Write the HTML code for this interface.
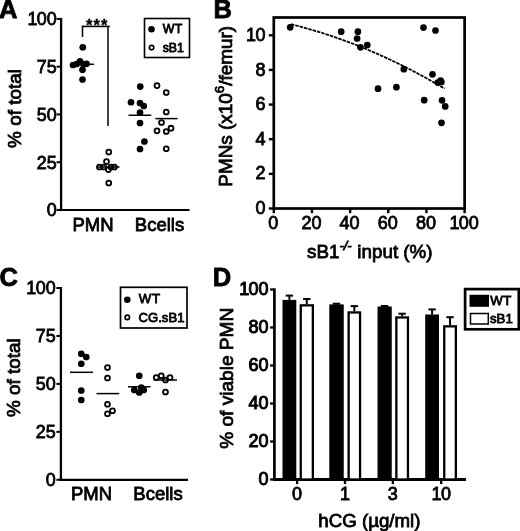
<!DOCTYPE html>
<html><head><meta charset="utf-8"><title>Figure</title>
<style>
html,body{margin:0;padding:0;background:#fff;}
svg{display:block;}
svg text{font-family:"Liberation Sans",sans-serif;fill:#000;stroke:#000;stroke-width:0.8px;}
</style></head><body>
<svg width="520" height="531" viewBox="0 0 520 531">
<rect x="0" y="0" width="520" height="531" fill="#fff"/>
<text x="-1" y="17.8" font-size="25.5" text-anchor="start" font-weight="bold" >A</text>
<line x1="61.1" y1="17.9" x2="61.1" y2="211.1" stroke="#000" stroke-width="2.3"/>
<line x1="60.0" y1="210" x2="189.5" y2="210" stroke="#000" stroke-width="2.2"/>
<line x1="56.6" y1="210.0" x2="61.1" y2="210.0" stroke="#000" stroke-width="2"/>
<text x="56.7" y="216.4" font-size="17.9" text-anchor="end" font-weight="normal" >0</text>
<line x1="56.6" y1="162.225" x2="61.1" y2="162.225" stroke="#000" stroke-width="2"/>
<text x="56.7" y="168.625" font-size="17.9" text-anchor="end" font-weight="normal" >25</text>
<line x1="56.6" y1="114.45" x2="61.1" y2="114.45" stroke="#000" stroke-width="2"/>
<text x="56.7" y="120.85000000000001" font-size="17.9" text-anchor="end" font-weight="normal" >50</text>
<line x1="56.6" y1="66.67500000000001" x2="61.1" y2="66.67500000000001" stroke="#000" stroke-width="2"/>
<text x="56.7" y="73.07500000000002" font-size="17.9" text-anchor="end" font-weight="normal" >75</text>
<line x1="56.6" y1="18.900000000000006" x2="61.1" y2="18.900000000000006" stroke="#000" stroke-width="2"/>
<text x="56.7" y="25.300000000000004" font-size="17.9" text-anchor="end" font-weight="normal" >1<tspan dx="-0.6">00</tspan></text>
<text transform="translate(20.7,108.5) rotate(-90)" font-size="18.9" text-anchor="middle">% of total</text>
<text x="93" y="231" font-size="18.5" text-anchor="middle" font-weight="normal" >PMN</text>
<text x="159.5" y="231" font-size="18.5" text-anchor="middle" font-weight="normal" >Bcells</text>
<line x1="81.8" y1="26.4" x2="109.8" y2="26.4" stroke="#000" stroke-width="1.6"/>
<line x1="82.5" y1="26" x2="82.5" y2="37" stroke="#000" stroke-width="1.5"/>
<line x1="108" y1="26" x2="108" y2="126" stroke="#000" stroke-width="1.5"/>
<text x="97.2" y="30.6" font-size="16.5" text-anchor="middle" font-weight="bold" style="stroke-width:0.3px;letter-spacing:1px">***</text>
<circle cx="82.75" cy="47.25" r="3.35" fill="#000"/>
<circle cx="73" cy="65" r="3.35" fill="#000"/>
<circle cx="76.7" cy="64" r="3.35" fill="#000"/>
<circle cx="80" cy="61.3" r="3.35" fill="#000"/>
<circle cx="83.3" cy="64.2" r="3.35" fill="#000"/>
<circle cx="86.5" cy="63.8" r="3.35" fill="#000"/>
<circle cx="82.5" cy="69.8" r="3.35" fill="#000"/>
<circle cx="82.5" cy="79.5" r="3.35" fill="#000"/>
<line x1="72" y1="64.3" x2="94" y2="64.3" stroke="#000" stroke-width="1.5"/>
<line x1="98" y1="167" x2="119.5" y2="167" stroke="#000" stroke-width="1.5"/>
<circle cx="108.75" cy="152" r="2.45" fill="none" stroke="#000" stroke-width="1.8"/>
<circle cx="106.5" cy="161.6" r="2.45" fill="none" stroke="#000" stroke-width="1.8"/>
<circle cx="99.4" cy="167" r="2.45" fill="none" stroke="#000" stroke-width="1.8"/>
<circle cx="103.75" cy="167" r="2.45" fill="none" stroke="#000" stroke-width="1.8"/>
<circle cx="108.4" cy="169.6" r="2.45" fill="none" stroke="#000" stroke-width="1.8"/>
<circle cx="111" cy="167" r="2.45" fill="none" stroke="#000" stroke-width="1.8"/>
<circle cx="114.4" cy="167" r="2.45" fill="none" stroke="#000" stroke-width="1.8"/>
<circle cx="108.75" cy="183" r="2.45" fill="none" stroke="#000" stroke-width="1.8"/>
<line x1="128.5" y1="115.25" x2="151.25" y2="115.25" stroke="#000" stroke-width="1.5"/>
<circle cx="140.25" cy="86.6" r="3.35" fill="#000"/>
<circle cx="131" cy="102.25" r="3.35" fill="#000"/>
<circle cx="140" cy="103" r="3.35" fill="#000"/>
<circle cx="143.75" cy="106" r="3.35" fill="#000"/>
<circle cx="140" cy="112.5" r="3.35" fill="#000"/>
<circle cx="140" cy="123" r="3.35" fill="#000"/>
<circle cx="144.4" cy="141.5" r="3.35" fill="#000"/>
<circle cx="140" cy="149" r="3.35" fill="#000"/>
<line x1="155.4" y1="118.6" x2="177.5" y2="118.6" stroke="#000" stroke-width="1.5"/>
<circle cx="157" cy="85.6" r="2.45" fill="none" stroke="#000" stroke-width="1.8"/>
<circle cx="166.25" cy="92.5" r="2.45" fill="none" stroke="#000" stroke-width="1.8"/>
<circle cx="166.25" cy="112" r="2.45" fill="none" stroke="#000" stroke-width="1.8"/>
<circle cx="161.5" cy="122.5" r="2.45" fill="none" stroke="#000" stroke-width="1.8"/>
<circle cx="157" cy="130.8" r="2.45" fill="none" stroke="#000" stroke-width="1.8"/>
<circle cx="166.25" cy="131.5" r="2.45" fill="none" stroke="#000" stroke-width="1.8"/>
<circle cx="171" cy="128.2" r="2.45" fill="none" stroke="#000" stroke-width="1.8"/>
<circle cx="166.25" cy="148.75" r="2.45" fill="none" stroke="#000" stroke-width="1.8"/>
<rect x="144.5" y="18.5" width="45" height="39" fill="#fff" stroke="#000" stroke-width="1.6"/>
<circle cx="151.5" cy="29.2" r="3.3" fill="#000"/>
<circle cx="151.6" cy="47.6" r="2.2" fill="none" stroke="#000" stroke-width="1.7"/>
<text x="162.7" y="33.2" font-size="12.3" text-anchor="start" font-weight="normal" style="letter-spacing:0.5px">WT</text>
<text x="162.7" y="52.2" font-size="12.3" text-anchor="start" font-weight="normal" >sB1</text>
<text x="213.6" y="18.2" font-size="25.5" text-anchor="start" font-weight="bold" >B</text>
<rect x="273.8" y="17.5" width="190.8" height="191.0" fill="none" stroke="#000" stroke-width="2.7"/>
<line x1="268.8" y1="208.5" x2="273.8" y2="208.5" stroke="#000" stroke-width="2.4"/>
<text x="265.5" y="214.1" font-size="18" text-anchor="end" font-weight="normal" >0</text>
<line x1="268.8" y1="173.86" x2="273.8" y2="173.86" stroke="#000" stroke-width="2.4"/>
<text x="265.5" y="179.46" font-size="18" text-anchor="end" font-weight="normal" >2</text>
<line x1="268.8" y1="139.22" x2="273.8" y2="139.22" stroke="#000" stroke-width="2.4"/>
<text x="265.5" y="144.82" font-size="18" text-anchor="end" font-weight="normal" >4</text>
<line x1="268.8" y1="104.58000000000001" x2="273.8" y2="104.58000000000001" stroke="#000" stroke-width="2.4"/>
<text x="265.5" y="110.18" font-size="18" text-anchor="end" font-weight="normal" >6</text>
<line x1="268.8" y1="69.94" x2="273.8" y2="69.94" stroke="#000" stroke-width="2.4"/>
<text x="265.5" y="75.53999999999999" font-size="18" text-anchor="end" font-weight="normal" >8</text>
<line x1="268.8" y1="35.30000000000001" x2="273.8" y2="35.30000000000001" stroke="#000" stroke-width="2.4"/>
<text x="265.5" y="40.90000000000001" font-size="18" text-anchor="end" font-weight="normal" >1<tspan dx="-0.6">0</tspan></text>
<line x1="273.8" y1="208.5" x2="273.8" y2="213.2" stroke="#000" stroke-width="2.4"/>
<text x="273.3" y="229.3" font-size="18" text-anchor="middle" font-weight="normal" >0</text>
<line x1="311.96000000000004" y1="208.5" x2="311.96000000000004" y2="213.2" stroke="#000" stroke-width="2.4"/>
<text x="311.46000000000004" y="229.3" font-size="18" text-anchor="middle" font-weight="normal" >20</text>
<line x1="350.12" y1="208.5" x2="350.12" y2="213.2" stroke="#000" stroke-width="2.4"/>
<text x="349.62" y="229.3" font-size="18" text-anchor="middle" font-weight="normal" >40</text>
<line x1="388.28000000000003" y1="208.5" x2="388.28000000000003" y2="213.2" stroke="#000" stroke-width="2.4"/>
<text x="387.78000000000003" y="229.3" font-size="18" text-anchor="middle" font-weight="normal" >60</text>
<line x1="426.44" y1="208.5" x2="426.44" y2="213.2" stroke="#000" stroke-width="2.4"/>
<text x="425.94" y="229.3" font-size="18" text-anchor="middle" font-weight="normal" >80</text>
<line x1="464.6" y1="208.5" x2="464.6" y2="213.2" stroke="#000" stroke-width="2.4"/>
<text x="464.1" y="229.3" font-size="18" text-anchor="middle" font-weight="normal" >1<tspan dx="-0.6">00</tspan></text>
<text transform="translate(232.2,106.3) rotate(-90)" font-size="18.9" text-anchor="middle">PMNs (x10<tspan font-size="13.5" dy="-8">6</tspan><tspan dy="8">/femur)</tspan></text>
<text x="307" y="258.3" font-size="18.8">sB1<tspan font-size="13" dy="-8" font-style="italic" dx="0">-/-</tspan><tspan dy="8" dx="0.5"> input (%)</tspan></text>
<path d="M291,24.2 Q367.8,43.1 444.6,88.6" fill="none" stroke="#000" stroke-width="1.8" stroke-dasharray="3.5 1"/>
<circle cx="290.2" cy="27.3" r="3.35" fill="#000"/>
<circle cx="341.2" cy="31.7" r="3.35" fill="#000"/>
<circle cx="357.9" cy="31.7" r="3.35" fill="#000"/>
<circle cx="357.1" cy="38.5" r="3.35" fill="#000"/>
<circle cx="360.5" cy="47.3" r="3.35" fill="#000"/>
<circle cx="367.3" cy="45" r="3.35" fill="#000"/>
<circle cx="423.5" cy="27.6" r="3.35" fill="#000"/>
<circle cx="435.5" cy="30.5" r="3.35" fill="#000"/>
<circle cx="403.8" cy="69.2" r="3.35" fill="#000"/>
<circle cx="432.5" cy="74.3" r="3.35" fill="#000"/>
<circle cx="440.6" cy="80.5" r="3.35" fill="#000"/>
<circle cx="437.7" cy="82.5" r="3.35" fill="#000"/>
<circle cx="441.4" cy="82" r="3.35" fill="#000"/>
<circle cx="378" cy="88.7" r="3.35" fill="#000"/>
<circle cx="396.4" cy="87.2" r="3.35" fill="#000"/>
<circle cx="424.2" cy="100.2" r="3.35" fill="#000"/>
<circle cx="442" cy="100.3" r="3.35" fill="#000"/>
<circle cx="445.2" cy="106.4" r="3.35" fill="#000"/>
<circle cx="441.5" cy="122.8" r="3.35" fill="#000"/>
<text x="-0.6" y="285.6" font-size="25.5" text-anchor="start" font-weight="bold" >C</text>
<line x1="60.9" y1="287.0" x2="60.9" y2="480.90000000000003" stroke="#000" stroke-width="2.3"/>
<line x1="59.8" y1="479.8" x2="188" y2="479.8" stroke="#000" stroke-width="2.2"/>
<line x1="56.4" y1="479.8" x2="60.9" y2="479.8" stroke="#000" stroke-width="2"/>
<text x="55.6" y="486.1" font-size="17.9" text-anchor="end" font-weight="normal" >0</text>
<line x1="56.4" y1="431.85" x2="60.9" y2="431.85" stroke="#000" stroke-width="2"/>
<text x="55.6" y="438.15000000000003" font-size="17.9" text-anchor="end" font-weight="normal" >25</text>
<line x1="56.4" y1="383.9" x2="60.9" y2="383.9" stroke="#000" stroke-width="2"/>
<text x="55.6" y="390.2" font-size="17.9" text-anchor="end" font-weight="normal" >50</text>
<line x1="56.4" y1="335.95000000000005" x2="60.9" y2="335.95000000000005" stroke="#000" stroke-width="2"/>
<text x="55.6" y="342.25000000000006" font-size="17.9" text-anchor="end" font-weight="normal" >75</text>
<line x1="56.4" y1="288.0" x2="60.9" y2="288.0" stroke="#000" stroke-width="2"/>
<text x="55.6" y="294.3" font-size="17.9" text-anchor="end" font-weight="normal" >1<tspan dx="-0.6">00</tspan></text>
<text transform="translate(19.6,377.6) rotate(-90)" font-size="18.9" text-anchor="middle">% of total</text>
<text x="91.5" y="500" font-size="18.5" text-anchor="middle" font-weight="normal" >PMN</text>
<text x="158" y="500" font-size="18.5" text-anchor="middle" font-weight="normal" >Bcells</text>
<line x1="70" y1="372.3" x2="93" y2="372.3" stroke="#000" stroke-width="1.5"/>
<circle cx="81.25" cy="353.75" r="3.35" fill="#000"/>
<circle cx="86.25" cy="357" r="3.35" fill="#000"/>
<circle cx="81.25" cy="363.75" r="3.35" fill="#000"/>
<circle cx="81.25" cy="390.5" r="3.35" fill="#000"/>
<circle cx="81.25" cy="400" r="3.35" fill="#000"/>
<line x1="96.5" y1="393.6" x2="119.25" y2="393.6" stroke="#000" stroke-width="1.5"/>
<circle cx="107.5" cy="367.5" r="2.45" fill="none" stroke="#000" stroke-width="1.8"/>
<circle cx="107.5" cy="378" r="2.45" fill="none" stroke="#000" stroke-width="1.8"/>
<circle cx="107.5" cy="404.25" r="2.45" fill="none" stroke="#000" stroke-width="1.8"/>
<circle cx="112.5" cy="410.75" r="2.45" fill="none" stroke="#000" stroke-width="1.8"/>
<circle cx="107.5" cy="413.75" r="2.45" fill="none" stroke="#000" stroke-width="1.8"/>
<line x1="128" y1="386.75" x2="150.5" y2="386.75" stroke="#000" stroke-width="1.5"/>
<circle cx="139.25" cy="375.75" r="3.35" fill="#000"/>
<circle cx="134.25" cy="390" r="3.35" fill="#000"/>
<circle cx="141.25" cy="387.5" r="3.35" fill="#000"/>
<circle cx="143.75" cy="390" r="3.35" fill="#000"/>
<circle cx="139.25" cy="392.5" r="3.35" fill="#000"/>
<line x1="153.75" y1="380" x2="177" y2="380" stroke="#000" stroke-width="1.5"/>
<circle cx="156.25" cy="377.5" r="2.45" fill="none" stroke="#000" stroke-width="1.8"/>
<circle cx="161.25" cy="375.75" r="2.45" fill="none" stroke="#000" stroke-width="1.8"/>
<circle cx="165.5" cy="380" r="2.45" fill="none" stroke="#000" stroke-width="1.8"/>
<circle cx="170" cy="377.5" r="2.45" fill="none" stroke="#000" stroke-width="1.8"/>
<circle cx="165.5" cy="392" r="2.45" fill="none" stroke="#000" stroke-width="1.8"/>
<rect x="120.5" y="287.3" width="66.5" height="40.7" fill="#fff" stroke="#000" stroke-width="1.7"/>
<circle cx="127.3" cy="299.7" r="3.3" fill="#000"/>
<circle cx="127.3" cy="317.4" r="2.2" fill="none" stroke="#000" stroke-width="1.7"/>
<text x="138.8" y="303.3" font-size="13.3" text-anchor="start" font-weight="normal" style="letter-spacing:0.7px">WT</text>
<text x="138.6" y="322" font-size="13.1" text-anchor="start" font-weight="normal" >CG.sB1</text>
<text x="212.8" y="285.6" font-size="25.5" text-anchor="start" font-weight="bold" >D</text>
<line x1="274.4" y1="288.4" x2="274.4" y2="480.8" stroke="#000" stroke-width="2.7"/>
<line x1="273.09999999999997" y1="479.6" x2="466" y2="479.6" stroke="#000" stroke-width="3.0"/>
<line x1="270.09999999999997" y1="479.5" x2="274.4" y2="479.5" stroke="#000" stroke-width="2.3"/>
<text x="268.6" y="485.0" font-size="18" text-anchor="end" font-weight="normal" style="stroke-width:1px">0</text>
<line x1="270.09999999999997" y1="441.5" x2="274.4" y2="441.5" stroke="#000" stroke-width="2.3"/>
<text x="268.6" y="447.0" font-size="18" text-anchor="end" font-weight="normal" style="stroke-width:1px">20</text>
<line x1="270.09999999999997" y1="403.5" x2="274.4" y2="403.5" stroke="#000" stroke-width="2.3"/>
<text x="268.6" y="409.0" font-size="18" text-anchor="end" font-weight="normal" style="stroke-width:1px">40</text>
<line x1="270.09999999999997" y1="365.5" x2="274.4" y2="365.5" stroke="#000" stroke-width="2.3"/>
<text x="268.6" y="371.0" font-size="18" text-anchor="end" font-weight="normal" style="stroke-width:1px">60</text>
<line x1="270.09999999999997" y1="327.5" x2="274.4" y2="327.5" stroke="#000" stroke-width="2.3"/>
<text x="268.6" y="333.0" font-size="18" text-anchor="end" font-weight="normal" style="stroke-width:1px">80</text>
<line x1="270.09999999999997" y1="289.5" x2="274.4" y2="289.5" stroke="#000" stroke-width="2.3"/>
<text x="268.6" y="295.0" font-size="18" text-anchor="end" font-weight="normal" style="stroke-width:1px">1<tspan dx="-0.6">00</tspan></text>
<text transform="translate(233.2,378.3) rotate(-90)" font-size="19.1" text-anchor="middle">% of viable PMN</text>
<text x="369.4" y="526.7" font-size="18.7" text-anchor="middle">hCG (µg/ml)</text>
<line x1="289.4" y1="295.6" x2="289.4" y2="299.9" stroke="#000" stroke-width="2.0"/>
<line x1="285.7" y1="295.6" x2="293.09999999999997" y2="295.6" stroke="#000" stroke-width="2.0"/>
<rect x="282.5" y="299.9" width="13.800000000000011" height="179.60000000000002" fill="#000"/>
<line x1="306.8" y1="299.0" x2="306.8" y2="304.2" stroke="#000" stroke-width="2.0"/>
<line x1="303.1" y1="299.0" x2="310.5" y2="299.0" stroke="#000" stroke-width="2.0"/>
<rect x="300.75" y="305.34999999999997" width="12.099999999999977" height="174.15" fill="#fff" stroke="#000" stroke-width="2.3"/>
<line x1="336.525" y1="303.7" x2="336.525" y2="304.4" stroke="#000" stroke-width="2.0"/>
<line x1="332.825" y1="303.7" x2="340.22499999999997" y2="303.7" stroke="#000" stroke-width="2.0"/>
<rect x="329.3" y="304.4" width="14.449999999999989" height="175.10000000000002" fill="#000"/>
<line x1="354.35" y1="306.1" x2="354.35" y2="311.3" stroke="#000" stroke-width="2.0"/>
<line x1="350.65000000000003" y1="306.1" x2="358.05" y2="306.1" stroke="#000" stroke-width="2.0"/>
<rect x="348.65" y="312.45" width="11.399999999999988" height="167.04999999999998" fill="#fff" stroke="#000" stroke-width="2.3"/>
<line x1="384.625" y1="306.0" x2="384.625" y2="306.5" stroke="#000" stroke-width="2.0"/>
<line x1="380.925" y1="306.0" x2="388.325" y2="306.0" stroke="#000" stroke-width="2.0"/>
<rect x="377.5" y="306.5" width="14.25" height="173.0" fill="#000"/>
<line x1="402.15" y1="313.7" x2="402.15" y2="316.3" stroke="#000" stroke-width="2.0"/>
<line x1="398.45" y1="313.7" x2="405.84999999999997" y2="313.7" stroke="#000" stroke-width="2.0"/>
<rect x="396.34999999999997" y="317.45" width="11.600000000000033" height="162.04999999999998" fill="#fff" stroke="#000" stroke-width="2.3"/>
<line x1="432.1" y1="309.4" x2="432.1" y2="314.5" stroke="#000" stroke-width="2.0"/>
<line x1="428.40000000000003" y1="309.4" x2="435.8" y2="309.4" stroke="#000" stroke-width="2.0"/>
<rect x="425.2" y="314.5" width="13.800000000000011" height="165.0" fill="#000"/>
<line x1="450.05" y1="317.2" x2="450.05" y2="325.2" stroke="#000" stroke-width="2.0"/>
<line x1="446.35" y1="317.2" x2="453.75" y2="317.2" stroke="#000" stroke-width="2.0"/>
<rect x="444.25" y="326.34999999999997" width="11.599999999999977" height="153.15" fill="#fff" stroke="#000" stroke-width="2.3"/>
<line x1="297.1" y1="479.5" x2="297.1" y2="484.1" stroke="#000" stroke-width="2.3"/>
<text x="297.1" y="499.5" font-size="18" text-anchor="middle" font-weight="normal" >0</text>
<line x1="345" y1="479.5" x2="345" y2="484.1" stroke="#000" stroke-width="2.3"/>
<text x="345" y="499.5" font-size="18" text-anchor="middle" font-weight="normal" >1</text>
<line x1="392.8" y1="479.5" x2="392.8" y2="484.1" stroke="#000" stroke-width="2.3"/>
<text x="392.8" y="499.5" font-size="18" text-anchor="middle" font-weight="normal" >3</text>
<line x1="441.2" y1="479.5" x2="441.2" y2="484.1" stroke="#000" stroke-width="2.3"/>
<text x="441.2" y="499.5" font-size="18" text-anchor="middle" font-weight="normal" >1<tspan dx="-0.6">0</tspan></text>
<rect x="465.1" y="289.1" width="53.7" height="40.2" fill="#fff" stroke="#000" stroke-width="2.7"/>
<rect x="469.5" y="294.8" width="19.5" height="12" fill="#000"/>
<rect x="470.5" y="313.5" width="17.8" height="10.5" fill="#fff" stroke="#000" stroke-width="1.5"/>
<text x="490.3" y="304.9" font-size="13.2" text-anchor="start" font-weight="normal" style="letter-spacing:0.4px">WT</text>
<text x="490" y="322.5" font-size="13.2" text-anchor="start" font-weight="normal" >sB1</text>
</svg>
</body></html>
